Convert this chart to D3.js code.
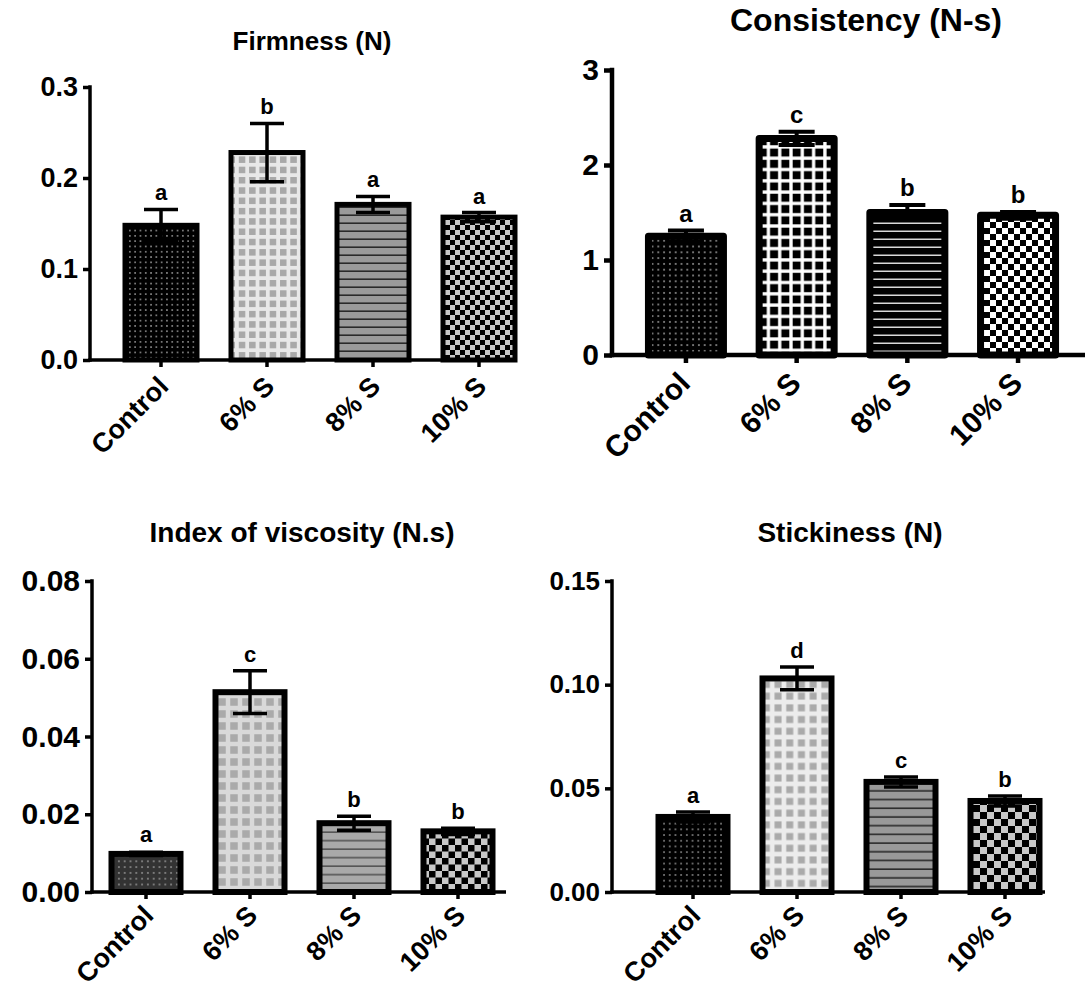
<!DOCTYPE html>
<html>
<head>
<meta charset="utf-8">
<script src="https://cdn.jsdelivr.net/npm/d3@7"></script>
<style>
  html, body { margin: 0; padding: 0; background: #fff; }
  svg { display: block; }
  text { font-family: "Liberation Sans", Arial, sans-serif; font-weight: bold; fill: #000; }
</style>
</head>
<body>
<svg id="chart" width="1085" height="995"></svg>
<script>
// Texture profile of a dessert at four formulations
const categories = ["Control", "6% S", "8% S", "10% S"];

const firmness = [0.148, 0.228, 0.171, 0.157];
const firmnessErr = [0.0175, 0.032, 0.0088, 0.005];
const firmnessLetters = ["a", "b", "a", "a"];
const firmnessTicks = [0, 0.1, 0.2, 0.3];
const firmnessTickLabels = ["0.0", "0.1", "0.2", "0.3"];

const consistency = [1.25, 2.28, 1.50, 1.47];
const consistencyErr = [0.06, 0.07, 0.08, 0.035];
const consistencyLetters = ["a", "c", "b", "b"];
const consistencyTicks = [0, 1, 2, 3];
const consistencyTickLabels = ["0", "1", "2", "3"];

const viscosity = [0.0098, 0.0514, 0.0177, 0.0156];
const viscosityErr = [0.0004, 0.0055, 0.0018, 0.0008];
const viscosityLetters = ["a", "c", "b", "b"];
const viscosityTicks = [0, 0.02, 0.04, 0.06, 0.08];
const viscosityTickLabels = ["0.00", "0.02", "0.04", "0.06", "0.08"];

const stickiness = [0.0362, 0.103, 0.0531, 0.0439];
const stickinessErr = [0.0024, 0.0055, 0.0024, 0.0024];
const stickinessLetters = ["a", "d", "c", "b"];
const stickinessTicks = [0, 0.05, 0.10, 0.15];
const stickinessTickLabels = ["0.00", "0.05", "0.10", "0.15"];

const svg = d3.select("#chart");
const defs = svg.append("defs");

// ---- fill textures ----
function dotPattern(id, bg, fg, period, size) {
  const p = defs.append("pattern").attr("id", id).attr("patternUnits", "userSpaceOnUse")
    .attr("width", period).attr("height", period);
  p.append("rect").attr("width", period).attr("height", period).attr("fill", bg);
  p.append("rect").attr("x", (period - size) / 2).attr("y", (period - size) / 2)
    .attr("width", size).attr("height", size).attr("fill", fg);
}
function squarePattern(id, bg, fg, period, size) {
  const p = defs.append("pattern").attr("id", id).attr("patternUnits", "userSpaceOnUse")
    .attr("width", period).attr("height", period);
  p.append("rect").attr("width", period).attr("height", period).attr("fill", bg);
  p.append("rect").attr("x", (period - size) / 2).attr("y", (period - size) / 2)
    .attr("width", size).attr("height", size).attr("fill", fg);
}
function linePattern(id, bg, fg, period, thick) {
  const p = defs.append("pattern").attr("id", id).attr("patternUnits", "userSpaceOnUse")
    .attr("width", 10).attr("height", period);
  p.append("rect").attr("width", 10).attr("height", period).attr("fill", bg);
  p.append("rect").attr("x", 0).attr("y", period - thick).attr("width", 10).attr("height", thick).attr("fill", fg);
}
function checkerPattern(id, c1, c2, cell) {
  const p = defs.append("pattern").attr("id", id).attr("patternUnits", "userSpaceOnUse")
    .attr("width", cell * 2).attr("height", cell * 2);
  p.append("rect").attr("width", cell * 2).attr("height", cell * 2).attr("fill", c2);
  p.append("rect").attr("width", cell).attr("height", cell).attr("fill", c1);
  p.append("rect").attr("x", cell).attr("y", cell).attr("width", cell).attr("height", cell).attr("fill", c1);
}

dotPattern("p1a", "#000", "#fff", 5.3, 1.2);
squarePattern("p1b", "#e8e8e8", "#a8a8a8", 10.3, 6.5);
linePattern("p1c", "#9a9a9a", "#2a2a2a", 8, 1.6);
checkerPattern("p1d", "#000", "#c8c8c8", 5);

dotPattern("p2a", "#000", "#fff", 5.8, 1.3);
squarePattern("p2b", "#fff", "#000", 11.3, 8);
linePattern("p2c", "#000", "#d8d8d8", 8, 1.5);
checkerPattern("p2d", "#000", "#fff", 6);

dotPattern("p3a", "#333", "#d0d0d0", 5.8, 1.3);
squarePattern("p3b", "#d9d9d9", "#aaaaaa", 12, 7.5);
linePattern("p3c", "#a9a9a9", "#555", 8.5, 1.6);
checkerPattern("p3d", "#000", "#c8c8c8", 6.5);

dotPattern("p4a", "#000", "#fff", 5.7, 1.2);
squarePattern("p4b", "#ececec", "#aaaaaa", 11.7, 7);
linePattern("p4c", "#999", "#2a2a2a", 8.7, 1.6);
checkerPattern("p4d", "#000", "#c8c8c8", 7);

// ---- one panel ----
function drawPanel(cfg) {
  const g = svg.append("g");
  const y = d3.scaleLinear().domain([0, cfg.max]).range([cfg.y0, cfg.yTop]);
  const x = d3.scaleBand().domain(categories).range([cfg.bandStart, cfg.bandEnd]);
  const bw = cfg.barOuter - cfg.stroke;

  // y axis
  const yAxis = d3.axisLeft(y).tickValues(cfg.ticks)
    .tickFormat((d, i) => cfg.tickLabels[i]).tickSizeOuter(0).tickSize(cfg.tickLen).tickPadding(cfg.tickPad);
  const ya = g.append("g").attr("transform", `translate(${cfg.axisX},0)`).call(yAxis);
  ya.select(".domain").remove();
  ya.selectAll(".tick line").attr("stroke", "#000").attr("stroke-width", cfg.axisW);
  ya.selectAll(".tick text").style("font-size", cfg.tickFont + "px").attr("fill", "#000")
    .attr("font-family", null);
  g.append("line").attr("x1", cfg.axisX).attr("x2", cfg.axisX)
    .attr("y1", y(cfg.max) - cfg.axisW / 2).attr("y2", cfg.y0 + cfg.axisW / 2)
    .attr("stroke", "#000").attr("stroke-width", cfg.axisW);

  // bars
  g.selectAll("rect.bar").data(cfg.values).join("rect").attr("class", "bar")
    .attr("x", (d, i) => x(categories[i]) + x.bandwidth() / 2 - bw / 2)
    .attr("width", bw)
    .attr("y", d => y(d))
    .attr("height", d => cfg.y0 - y(d))
    .attr("fill", (d, i) => `url(#${cfg.patterns[i]})`)
    .attr("stroke", "#000").attr("stroke-width", cfg.stroke)
    .attr("stroke-linejoin", cfg.join);

  // x axis
  const xAxis = d3.axisBottom(x).tickSizeOuter(0).tickSize(cfg.tickLen).tickFormat("");
  const xa = g.append("g").attr("transform", `translate(0,${cfg.y0})`).call(xAxis);
  xa.select(".domain").remove();
  xa.selectAll(".tick line").attr("stroke", "#000").attr("stroke-width", cfg.axisW);
  g.append("line").attr("x1", cfg.axisX - cfg.axisW / 2).attr("x2", cfg.xEnd)
    .attr("y1", cfg.y0).attr("y2", cfg.y0).attr("stroke", "#000").attr("stroke-width", cfg.axisW);

  // category labels
  g.selectAll("text.cat").data(categories).join("text").attr("class", "cat")
    .attr("text-anchor", "end")
    .attr("transform", d => `translate(${x(d) + x.bandwidth() / 2 + cfg.catDx},${cfg.y0 + cfg.catDy}) rotate(-45)`)
    .style("font-size", cfg.catFont + "px")
    .text(d => d);

  // error bars
  const eb = g.selectAll("g.err").data(cfg.values).join("g").attr("class", "err");
  const cx = (i) => x(categories[i]) + x.bandwidth() / 2;
  eb.append("line")
    .attr("x1", (d, i) => cx(i)).attr("x2", (d, i) => cx(i))
    .attr("y1", (d, i) => y(d + cfg.errs[i])).attr("y2", (d, i) => y(d - cfg.errs[i]))
    .attr("stroke", "#000").attr("stroke-width", cfg.errW);
  [1, -1].forEach(s => {
    eb.append("line")
      .attr("x1", (d, i) => cx(i) - cfg.capW / 2).attr("x2", (d, i) => cx(i) + cfg.capW / 2)
      .attr("y1", (d, i) => y(d + s * cfg.errs[i])).attr("y2", (d, i) => y(d + s * cfg.errs[i]))
      .attr("stroke", "#000").attr("stroke-width", cfg.errW);
  });

  // significance letters
  g.selectAll("text.sig").data(cfg.values).join("text").attr("class", "sig")
    .attr("text-anchor", "middle")
    .attr("x", (d, i) => cx(i))
    .attr("y", (d, i) => Math.min(y(d + cfg.errs[i]), y(d) - cfg.stroke / 2) - cfg.letterGap)
    .style("font-size", cfg.letterFont + "px")
    .text((d, i) => cfg.letters[i]);

  // title
  g.append("text").attr("x", cfg.titleX).attr("y", cfg.titleY).attr("text-anchor", "middle")
    .style("font-size", cfg.titleFont + "px").text(cfg.title);
}

drawPanel({
  title: "Firmness (N)", titleX: 312, titleY: 50, titleFont: 26,
  values: firmness, errs: firmnessErr, letters: firmnessLetters,
  ticks: firmnessTicks, tickLabels: firmnessTickLabels, max: 0.3,
  patterns: ["p1a", "p1b", "p1c", "p1d"],
  axisX: 90, y0: 360, yTop: 87, bandStart: 108, bandEnd: 532, xEnd: 510,
  barOuter: 77, stroke: 5, join: "miter", axisW: 3.5, tickLen: 7, tickPad: 5, tickFont: 27,
  catFont: 27, catDx: 9, catDy: 28, errW: 3.5, capW: 34, letterGap: 9, letterFont: 22
});

drawPanel({
  title: "Consistency (N-s)", titleX: 866, titleY: 31, titleFont: 32,
  values: consistency, errs: consistencyErr, letters: consistencyLetters,
  ticks: consistencyTicks, tickLabels: consistencyTickLabels, max: 3,
  patterns: ["p2a", "p2b", "p2c", "p2d"],
  axisX: 612, y0: 355, yTop: 70, bandStart: 630.6, bandEnd: 1073.4, xEnd: 1085,
  barOuter: 82, stroke: 7, join: "round", axisW: 4.5, tickLen: 8, tickPad: 5, tickFont: 30,
  catFont: 30, catDx: 6, catDy: 30, errW: 4, capW: 36, letterGap: 9, letterFont: 24
});

drawPanel({
  title: "Index of viscosity (N.s)", titleX: 302, titleY: 542, titleFont: 28,
  values: viscosity, errs: viscosityErr, letters: viscosityLetters,
  ticks: viscosityTicks, tickLabels: viscosityTickLabels, max: 0.08,
  patterns: ["p3a", "p3b", "p3c", "p3d"],
  axisX: 92, y0: 892, yTop: 581, bandStart: 94, bandEnd: 510, xEnd: 506,
  barOuter: 75, stroke: 6, join: "miter", axisW: 3.5, tickLen: 7, tickPad: 5, tickFont: 30,
  catFont: 27, catDx: 9, catDy: 25, errW: 3.5, capW: 34, letterGap: 9, letterFont: 22
});

drawPanel({
  title: "Stickiness (N)", titleX: 850, titleY: 542, titleFont: 28,
  values: stickiness, errs: stickinessErr, letters: stickinessLetters,
  ticks: stickinessTicks, tickLabels: stickinessTickLabels, max: 0.15,
  patterns: ["p4a", "p4b", "p4c", "p4d"],
  axisX: 612, y0: 892, yTop: 581, bandStart: 641, bandEnd: 1057, xEnd: 1045,
  barOuter: 75, stroke: 6, join: "miter", axisW: 3.5, tickLen: 7, tickPad: 5, tickFont: 26,
  catFont: 27, catDx: 9, catDy: 25, errW: 3.5, capW: 34, letterGap: 9, letterFont: 22
});
</script>
</body>
</html>
